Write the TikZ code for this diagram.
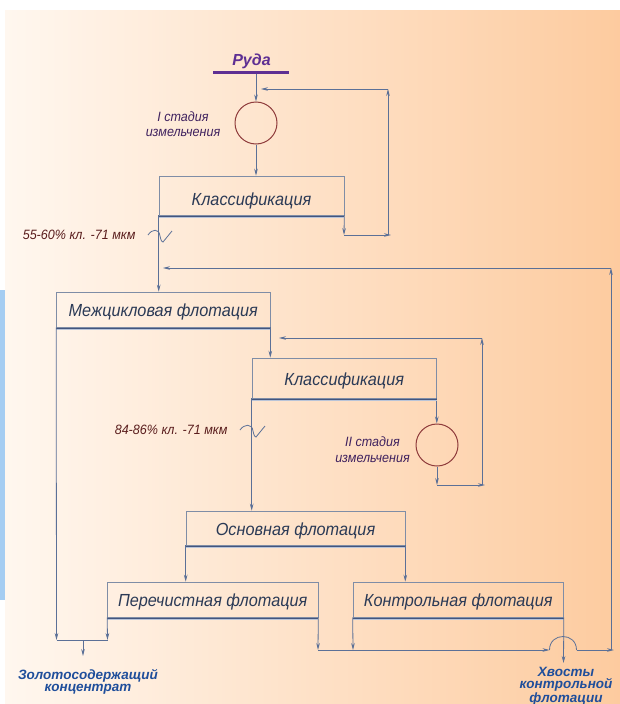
\documentclass[tikz,border=0pt]{standalone}
\usepackage{fontspec}
\setmainfont{Liberation Sans}
\newfontfamily\narrowsans[FakeStretch=0.93]{Liberation Sans}
\usetikzlibrary{arrows.meta}

\definecolor{bgleft}{HTML}{FFF7EF}
\definecolor{bgright}{HTML}{FDCB9F}
\definecolor{boxgray}{HTML}{7F8DA6}
\definecolor{boxtext}{HTML}{2B3A56}
\definecolor{dblblue}{HTML}{43557E}
\definecolor{dblfill}{HTML}{B9C4D8}
\definecolor{flowblue}{HTML}{5B7097}
\definecolor{millred}{HTML}{8E3B3B}
\definecolor{stagepurple}{HTML}{40225F}
\definecolor{sizered}{HTML}{5A1D1D}
\definecolor{orepurple}{HTML}{5E2F93}
\definecolor{outblue}{HTML}{1F4E9B}
\definecolor{stripblue}{HTML}{A5CDF2}

\tikzset{
  opbox/.style={rectangle, draw=boxgray, line width=0.6pt, inner sep=0pt, text=boxtext,
    text height=14.5pt, text depth=0pt,
    font=\narrowsans\itshape\fontsize{17.5}{17.5}\selectfont},
  millcirc/.style={circle, draw=millred, line width=1pt, minimum size=42pt, inner sep=0pt},
  flow/.style={draw=flowblue, line width=0.8pt, -{Stealth[length=7pt,width=3.6pt]}},
  link/.style={draw=flowblue, line width=0.8pt},
  dblline/.style={draw=dblblue, double=dblfill, double distance=0.8pt, line width=0.8pt},
  stagetext/.style={text=stagepurple, align=center, font=\narrowsans\itshape\fontsize{13.5}{15.5}\selectfont},
  sizetext/.style={text=sizered, font=\narrowsans\itshape\fontsize{13.5}{13.5}\selectfont},
  outtext/.style={text=outblue, align=center, inner sep=0pt, font=\bfseries\itshape\fontsize{13.5}{12}\selectfont},
}

\begin{document}
\begin{tikzpicture}[x=1pt,y=-1pt]
    % Page and background
    \useasboundingbox (0,0) rectangle (620,704);
    \fill[white] (0,0) rectangle (620,704);
    \shade[left color=bgleft, right color=bgright] (5,10) rectangle (620,704);
    \fill[stripblue] (0,290) rectangle (5,600);

    % Ore feed
    \node[text=orepurple, font=\bfseries\itshape\fontsize{16}{16}\selectfont] (ore) at (251.5,61.5) {Руда};
    \coordinate (oreL) at (213,72.5);
    \coordinate (oreR) at (289,72.5);
    \draw[orepurple, line width=2.2pt] (oreL) -- (oreR);
    \coordinate (feed) at (256,73.5);

    % Grinding stage I and first classification
    \node[millcirc] (mill1) at (256,123) {};
    \node[stagetext] (stage1) at (183,124) {I стадия\\измельчения};
    \node[opbox, minimum width=185pt, minimum height=39pt, text height=20pt] (cls1) at (251.5,195.5) {Классификация};
    \draw[flow] (feed) -- (mill1.north);
    \draw[flow] (mill1.south) -- (mill1.south |- cls1.north);

    % Sands back to mill I
    \coordinate (ret1a) at (344,235);
    \coordinate (ret1b) at (391,235);
    \coordinate (ret1c) at (388,235);
    \coordinate (ret1d) at (388,89);
    \coordinate (ret1e) at (261,89);
    \draw[flow] (cls1.south east) -- (ret1a);
    \draw[flow] (ret1a) -- (ret1b);
    \draw[flow] (ret1c) -- (ret1d);
    \draw[flow] (ret1d) -- (ret1e);

    % Overflow to inter-cycle flotation
    \node[opbox, minimum width=213.5pt, minimum height=35pt] (mezh) at (163.25,309.5) {Межцикловая флотация};
    \draw[flow] (cls1.south west) -- (cls1.south west |- mezh.north);
    \node[sizetext, anchor=east] (size1) at (139,235) {55-60\% кл. -71 мкм};
    \draw[link, shift={(159,236)}] (-11,-1) .. controls (-7,-7) and (0,-8) .. (1,0)
        .. controls (2,5) and (3,6) .. (4,6) -- (13,-5);

    % Grinding stage II loop
    \node[opbox, minimum width=184.5pt, minimum height=40pt] (cls2) at (344.25,378) {Классификация};
    \draw[flow] (mezh.south east) -- (mezh.south east |- cls2.north);
    \node[millcirc] (mill2) at (437,445) {};
    \node[stagetext] (stage2) at (372.5,449.5) {II стадия\\измельчения};
    \draw[flow] (cls2.south east) -- (cls2.south east |- mill2.north);
    \coordinate (ret2a) at (437,485);
    \coordinate (ret2b) at (485,485);
    \coordinate (ret2c) at (482,485);
    \coordinate (ret2d) at (482,338);
    \coordinate (ret2e) at (279,338);
    \draw[flow] (mill2.south) -- (ret2a);
    \draw[flow] (ret2a) -- (ret2b);
    \draw[flow] (ret2c) -- (ret2d);
    \draw[flow] (ret2d) -- (ret2e);

    % Fine product to rougher flotation
    \node[sizetext, anchor=east] (size2) at (231,430) {84-86\% кл. -71 мкм};
    \draw[link, shift={(252,431)}] (-12,-1) .. controls (-8,-7) and (0,-8) .. (1,0)
        .. controls (2,5) and (3,6) .. (4,6) -- (13,-5);
    \node[opbox, minimum width=219pt, minimum height=34pt] (rough) at (295.5,528) {Основная флотация};
    \draw[flow] (cls2.south west) -- (cls2.south west |- rough.north);

    % Cleaner and scavenger flotation
    \node[opbox, minimum width=210.5pt, minimum height=35pt] (clean) at (212.75,599.5) {Перечистная флотация};
    \node[opbox, minimum width=210.5pt, minimum height=35pt] (scav) at (458.25,599.5) {Контрольная флотация};
    \draw[flow] (rough.south west) -- (rough.south west |- clean.north);
    \draw[flow] (rough.south east) -- (rough.south east |- scav.north);

    % Double bottom edge of every box
    \foreach \b in {cls1,mezh,cls2,rough,clean,scav}
        \draw[dblline] ([yshift=-1.6pt]\b.south west) -- ([yshift=-1.6pt]\b.south east);

    % Concentrate
    \coordinate (conL) at (56.5,640);
    \coordinate (conR) at (107.5,640);
    \coordinate (conM) at (83,640);
    \coordinate (conEnd) at (83,656);
    \draw[flow] (mezh.south west) -- (conL);
    \draw[flow] (clean.south west) -- (conR);
    \draw[link] (conL) -- (conR);
    \draw[flow] (conM) -- (conEnd);
    \node[outtext] (conc) at (88,681.5) {Золотосодержащий\\концентрат};

    % Middlings back to inter-cycle flotation, tails
    \coordinate (midA) at (318,650);
    \coordinate (midB) at (353,650);
    \coordinate (jumpL) at (549.5,650);
    \coordinate (jumpR) at (576.5,650);
    \coordinate (midEnd) at (614,650);
    \draw[flow] (clean.south east) -- (midA);
    \draw[flow] (scav.south west) -- (midB);
    \draw[flow] (midA) -- (jumpL);
    \draw[link] (jumpL) .. controls (549.5,632) and (576.5,632) .. (jumpR);
    \draw[flow] (jumpR) -- (midEnd);
    \coordinate (ret3a) at (611,650);
    \coordinate (ret3b) at (611,268);
    \coordinate (ret3c) at (163,268);
    \draw[flow] (ret3a) -- (ret3b);
    \draw[flow] (ret3b) -- (ret3c);
    \coordinate (tailEnd) at (563.5,663);
    \draw[flow] (scav.south east) -- (tailEnd);
    \node[outtext] (tails) at (566,686.5) {Хвосты\\контрольной\\флотации};
\end{tikzpicture}
\end{document}
